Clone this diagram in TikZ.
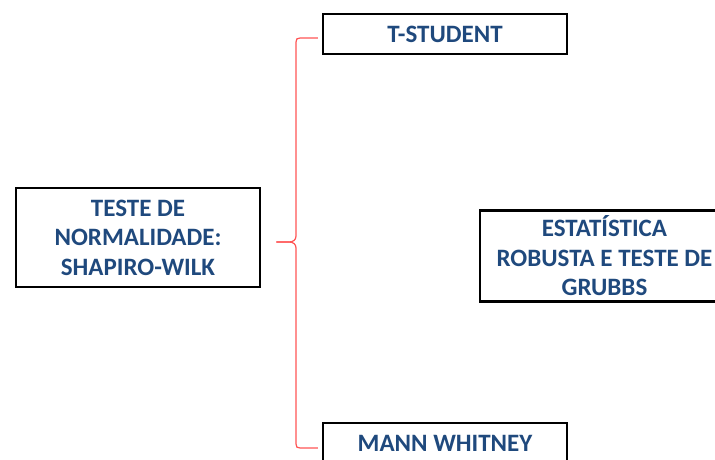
\documentclass[tikz,border=0pt]{standalone}
\usepackage{fontspec}
\setmainfont{Carlito}
\usetikzlibrary{calc}
\definecolor{txtblue}{RGB}{31,73,125}
\definecolor{bracered}{RGB}{255,85,85}

\begin{document}
\begin{tikzpicture}[x=1pt,y=-1pt,
    box/.style={draw,line width=2.5pt,align=center,inner sep=0pt,
        font=\fontsize{25}{29.5}\selectfont\bfseries,text=txtblue},
    redline/.style={draw=bracered,line width=1.2pt}]
    \useasboundingbox (0,0) rectangle (715,459);

    % boxes
    \node[box,minimum width=244pt,minimum height=99pt] (teste) at (138,237.5) {TESTE DE\\NORMALIDADE:\\SHAPIRO-WILK};
    \node[box,minimum width=244pt,minimum height=40pt] (tstud) at (445,34) {T-STUDENT};
    \node[box,minimum width=244pt,minimum height=40pt] (mann) at (445,443) {MANN WHITNEY};
    \node[box,minimum width=249pt,minimum height=91pt] (estat) at (604.5,256) {ESTAT\'ISTICA\\ROBUSTA E TESTE DE\\GRUBBS};

    % tip of the brace
    \coordinate (tip) at ($(teste.east)+(15,4.5)$);

    % brace
    \draw[redline] (tip) -- (289,242) .. controls (293,242) and (296,240) .. (296,236)
        -- (296,42) .. controls (296,39) and (297,38) .. (300,38) -- ($(tstud.west)+(-4,4)$);
    \draw[redline] (tip) -- (289,242) .. controls (293,242) and (296,244) .. (296,248)
        -- (296,444) .. controls (296,447) and (297,448) .. (300,448) -- ($(mann.west)+(-4,5)$);
\end{tikzpicture}
\end{document}
